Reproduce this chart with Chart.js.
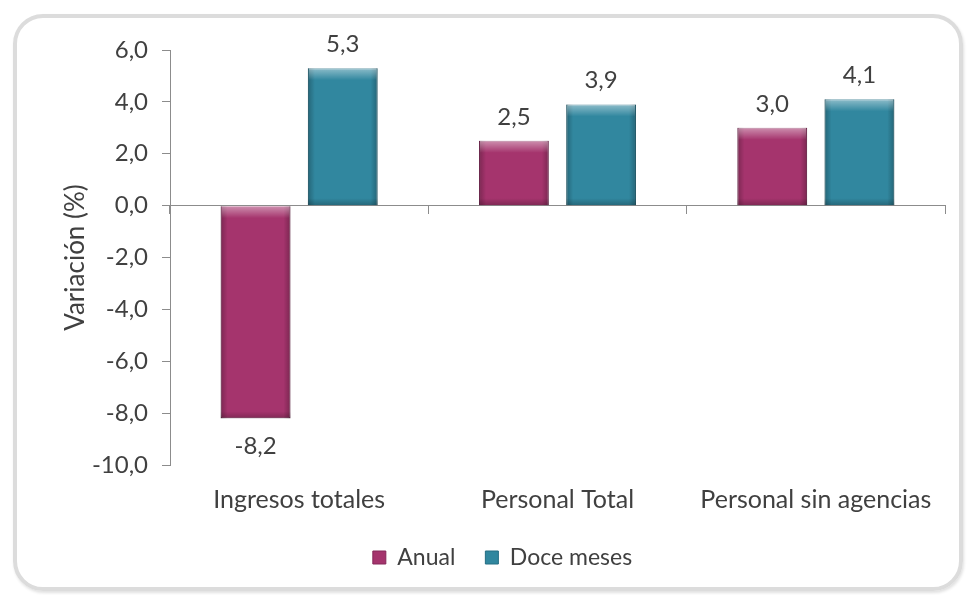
<!DOCTYPE html>
<html>
<head>
<meta charset="utf-8">
<script src="https://cdn.jsdelivr.net/npm/chart.js@4.4.4/dist/chart.umd.min.js"></script>
<style>
  html, body { margin: 0; padding: 0; background: #fff; }
  #wrap { position: relative; width: 970px; height: 595px; }
  #frame { position: absolute; left: 13px; top: 14px; width: 942px; height: 569px;
           border: 4px solid #dcdcdc; border-radius: 30px; box-shadow: 1px 2px 3px rgba(0,0,0,0.12); }
  canvas { position: absolute; left: 0; top: 0; }
</style>
</head>
<body>
<div id="wrap">
  <div id="frame"></div>
  <canvas id="chart" width="970" height="595"></canvas>
</div>
<script>
// Datos
const categories = ['Ingresos totales', 'Personal Total', 'Personal sin agencias'];
const anual = [-8.2, 2.5, 3.0];
const doceMeses = [5.3, 3.9, 4.1];
const yTicks = { min: -10, max: 6, step: 2 };

const FONT = 'Lato, "Open Sans", sans-serif';
const TEXT = '#404040';
const AXIS = '#8c8c8c';

const fmt = v => v.toFixed(1).replace('.', ',');

// Biselado de las barras (luz arriba, sombra en bordes)
const bevel = {
  id: 'bevel',
  afterDatasetsDraw(chart) {
    const ctx = chart.ctx;
    ctx.save();
    chart.data.datasets.forEach((ds, i) => {
      chart.getDatasetMeta(i).data.forEach(bar => {
        const { x, y, base, width } = bar.getProps(['x', 'y', 'base', 'width'], true);
        const l = x - width / 2, r = x + width / 2;
        const t = Math.min(y, base), b = Math.max(y, base);
        let g = ctx.createLinearGradient(l, 0, r, 0);
        g.addColorStop(0, 'rgba(0,0,0,0.25)');
        g.addColorStop(7 / width, 'rgba(0,0,0,0)');
        g.addColorStop(1 - 7 / width, 'rgba(0,0,0,0)');
        g.addColorStop(1, 'rgba(0,0,0,0.25)');
        ctx.fillStyle = g;
        ctx.fillRect(l, t, width, b - t);
        g = ctx.createLinearGradient(0, t, 0, t + 12);
        g.addColorStop(0, 'rgba(255,255,255,0.45)');
        g.addColorStop(1, 'rgba(255,255,255,0)');
        ctx.fillStyle = g;
        ctx.fillRect(l + 1, t, width - 2, 12);
        g = ctx.createLinearGradient(0, b - 7, 0, b);
        g.addColorStop(0, 'rgba(0,0,0,0)');
        g.addColorStop(1, 'rgba(0,0,0,0.22)');
        ctx.fillStyle = g;
        ctx.fillRect(l, b - 7, width, 7);
      });
    });
    ctx.restore();
  }
};

// Etiquetas de valor sobre/bajo cada barra
const valueLabels = {
  id: 'valueLabels',
  afterDatasetsDraw(chart) {
    const ctx = chart.ctx;
    ctx.save();
    ctx.font = '24px ' + FONT;
    ctx.fillStyle = TEXT;
    ctx.textAlign = 'center';
    ctx.textBaseline = 'middle';
    chart.data.datasets.forEach((ds, i) => {
      chart.getDatasetMeta(i).data.forEach((bar, j) => {
        const v = ds.data[j];
        const y = v >= 0 ? bar.y - 24 : bar.y + 28;
        ctx.fillText(fmt(v), bar.x, y);
      });
    });
    ctx.restore();
  }
};

new Chart(document.getElementById('chart'), {
  type: 'bar',
  data: {
    labels: categories,
    datasets: [
      { label: 'Anual', data: anual, backgroundColor: '#a5346d', borderColor: '#85285a', borderWidth: 1,
        categoryPercentage: 0.675, barPercentage: 0.8 },
      { label: 'Doce meses', data: doceMeses, backgroundColor: '#31879f', borderColor: '#256e83', borderWidth: 1,
        categoryPercentage: 0.675, barPercentage: 0.8 },
    ],
  },
  options: {
    responsive: false, animation: false,
    layout: { padding: { left: 60, right: 25, top: 50, bottom: 16 } },
    plugins: {
      legend: { position: 'bottom',
        labels: { color: TEXT, font: { family: FONT, size: 23 }, boxWidth: 13, boxHeight: 13, padding: 30 } },
      tooltip: { enabled: false },
    },
    scales: {
      x: { position: { y: 0 },
        grid: { drawOnChartArea: false, drawTicks: true, tickLength: 8, color: AXIS, offset: true },
        border: { display: true, color: AXIS, width: 1 },
        ticks: { display: false },
        afterFit: s => { s.height = 0; } },
      x2: { type: 'category', labels: categories, position: 'bottom',
        grid: { display: false, drawTicks: false },
        border: { display: false },
        ticks: { color: TEXT, font: { family: FONT, size: 25 }, padding: 20 },
        afterFit: s => { s.height = 51; } },
      y: { min: yTicks.min, max: yTicks.max,
        grid: { drawOnChartArea: false, tickLength: 8, color: AXIS },
        border: { display: true, color: AXIS },
        ticks: { stepSize: yTicks.step, color: TEXT, font: { family: FONT, size: 24 }, padding: 14, callback: v => fmt(v) },
        title: { display: true, text: 'Variación (%)', color: TEXT, font: { family: FONT, size: 26 }, padding: 0 },
        afterFit: s => { s.width = 110; } },
    },
  },
  plugins: [bevel, valueLabels],
});
</script>
</body>
</html>
